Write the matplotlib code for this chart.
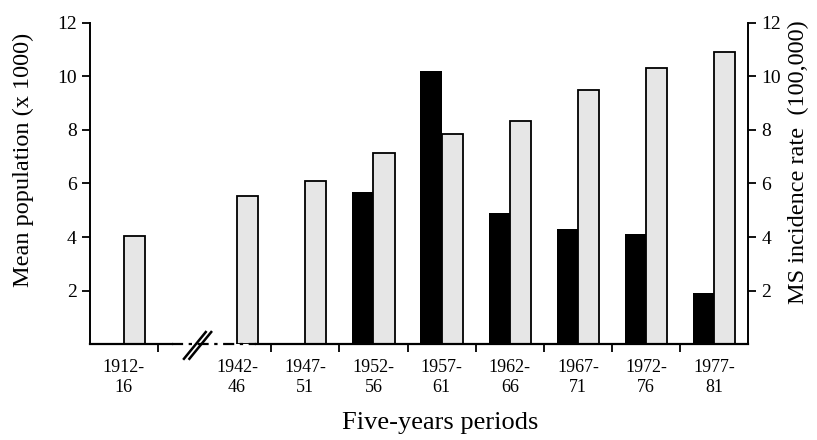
import numpy as np
import matplotlib.pyplot as plt

# Data
periods = ['1912-\n16', '1942-\n46', '1947-\n51', '1952-\n56', '1957-\n61',
           '1962-\n66', '1967-\n71', '1972-\n76', '1977-\n81']
ms_incidence = [np.nan, np.nan, np.nan, 5.7, 10.2, 4.9, 4.3, 4.1, 1.9]
mean_population = [4.05, 5.55, 6.1, 7.15, 7.85, 8.35, 9.5, 10.3, 10.9]

plt.rcParams['font.family'] = ['Liberation Serif', 'DejaVu Serif']

# category positions, with a gap for the axis break after the first period
gap = 0.66
n = len(periods)
x = np.arange(n) + gap * (np.arange(n) > 0)
w = 0.31

fig = plt.figure(figsize=(8.17, 4.4), dpi=100)
ax = fig.add_axes([0.110, 0.218, 0.806, 0.730])
ax2 = ax.twinx()

ax2.bar(x - w / 2, ms_incidence, width=w, color='black', linewidth=0)
ax.bar(x + w / 2, mean_population, width=w, color='#e6e6e6',
       edgecolor='black', linewidth=1.3, zorder=3)

for a in (ax, ax2):
    a.set_ylim(0, 12)
    a.set_yticks([2, 4, 6, 8, 10, 12])
    a.spines['top'].set_visible(False)
    a.spines['bottom'].set_visible(False)
    a.tick_params(axis='y', labelsize=14, length=6, width=1.3, direction='out')
ax.set_xlim(x[0] - 0.5, x[-1] + 0.5)

ax.spines['left'].set_linewidth(1.4)
ax2.spines['right'].set_linewidth(1.4)
ax2.spines['left'].set_visible(False)
ax.spines['right'].set_visible(False)
ax.set_zorder(ax2.get_zorder() + 1)
ax.patch.set_visible(False)

# x ticks at category boundaries (none at the break), labels at centres
bounds = [x[0] + 0.5] + list(x[2:] - 0.5)
ax.set_xticks(bounds)
ax.set_xticklabels([''] * len(bounds))
ax.set_xticks(x, minor=True)
ax.set_xticklabels(periods, minor=True, fontsize=13, linespacing=1.2)
ax.tick_params(axis='x', which='major', length=6, width=1.3, direction='out')
ax.tick_params(axis='x', which='minor', length=0, pad=11)

# bottom axis line with dash-dot break
tr = ax.get_xaxis_transform()
lo, hi = x[0] - 0.5, x[-1] + 0.5
ax.plot([lo, 0.7], [0, 0], color='black', lw=1.6, transform=tr, clip_on=False, zorder=4)
ax.plot([0.7, 1.93], [0, 0], color='black', lw=1.6, ls=(0, (5, 2.5, 1.5, 2.5)),
        transform=tr, clip_on=False, zorder=4)
ax.plot([1.93, hi], [0, 0], color='black', lw=1.6, transform=tr, clip_on=False, zorder=4)
for cx in (1.04, 1.12):
    ax.plot([cx - 0.16, cx + 0.16], [-0.55, 0.45], color='black', lw=1.8,
            clip_on=False, zorder=5)

ax.set_ylabel('Mean population (x 1000)', fontsize=17.5)
ax.yaxis.set_label_coords(-0.085, 0.573)
ax2.set_ylabel('MS incidence rate  (100,000)', fontsize=17.5)
ax2.yaxis.set_label_coords(1.06, 0.565)
ax.set_xlabel('Five-years periods', fontsize=19)
ax.xaxis.set_label_coords(0.532, -0.21)

fig.savefig('out.png', dpi=100)
